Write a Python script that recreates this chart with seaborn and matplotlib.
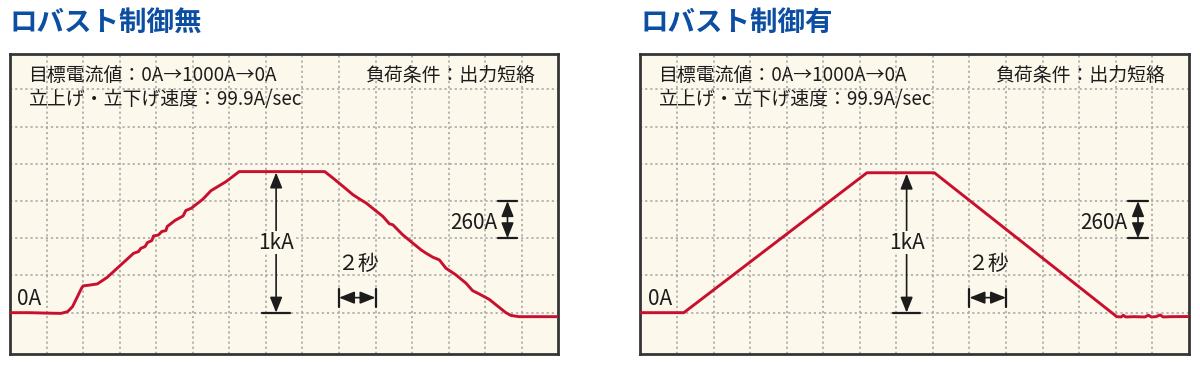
import matplotlib
matplotlib.use("Agg")
import matplotlib.pyplot as plt
import pandas as pd
import seaborn as sns

# ---------------- data ----------------
titles = ["ロバスト制御無", "ロバスト制御有"]
header_target = "目標電流値：0A→1000A→0A"
header_rate = "立上げ・立下げ速度：99.9A/sec"
header_load = "負荷条件：出力短絡"

# time [s] / current [A] traces
left_t = [0, 1.0, 2.0, 2.79, 3.15, 3.42, 3.69, 3.91, 4.0, 4.42, 4.78, 5.32, 5.86,
          6.76, 7.03, 7.16, 7.39, 7.52, 7.76, 7.85, 8.12, 8.30, 8.53, 8.60, 9.02,
          9.47, 9.62, 9.92, 10.55, 11.0, 11.82, 12.54, 17.22, 17.67, 18.22, 18.76,
          19.13, 19.49, 19.95, 20.40, 20.76, 20.95, 21.49, 22.04, 22.31, 22.49,
          22.76, 23.13, 23.49, 23.85, 24.4, 24.95, 25.31, 25.67, 26.22, 26.67,
          27.13, 27.4, 27.85, 30]
left_a = [0, 0, -3, -5, 7, 42, 112, 170, 187, 194, 201, 247, 310,
          415, 427, 450, 462, 490, 504, 536, 543, 567, 574, 602, 644,
          676, 714, 730, 793, 853, 916, 986, 986, 941, 883, 825,
          794, 766, 719, 673, 621, 614, 544, 486, 458, 439,
          416, 388, 369, 311, 264, 206, 154, 131, 93, 47,
          0, -19, -28, -28]

right_t = [0, 2.37, 12.39, 16.08, 26.06, 26.3, 26.42, 26.55, 27.0, 27.6, 27.79,
           27.95, 28.2, 28.43, 28.6, 29.0, 30]
right_a = [0, 0, 978, 978, -28, -30, -18, -30, -28, -30, -18,
           -30, -28, -16, -30, -28, -27]

grid_x = list(range(2, 30, 2))
grid_y = [0, 260, 520, 780, 1040, 1300, 1560]

# ---------------- style ----------------
BG = "#fdf8ec"
RED = "#c8102e"
INK = "#1c1c1c"
BLUE = "#0b4ea2"
FRAME = "#353535"

sns.set_theme(style="white")
plt.rcParams["font.family"] = ["Noto Sans CJK JP", "DejaVu Sans"]

fig = plt.figure(figsize=(12, 3.65), dpi=100)
fig.patch.set_facecolor("white")

W, H = 1200, 365
ax_w = 548.3 / W
ax_b = (H - 354.3) / H
ax_h = 300.0 / H
lefts = [10.0 / W, 640.5 / W]

traces = [(left_t, left_a), (right_t, right_a)]

for i, (t, a) in enumerate(traces):
    ax = fig.add_axes([lefts[i], ax_b, ax_w, ax_h])
    ax.set_facecolor(BG)
    df = pd.DataFrame({"t": t, "a": a})
    sns.lineplot(data=df, x="t", y="a", ax=ax, color=RED, linewidth=2.1,
                 sort=False, estimator=None, zorder=3)
    ax.set_xlim(0, 30)
    ax.set_ylim(-291, 1806)
    ax.set_xticks(grid_x)
    ax.set_yticks(grid_y)
    ax.set_axisbelow(True)
    ax.grid(True, color="#a6a6a6", linestyle=(0, (1.4, 1.8)), linewidth=1.15)
    ax.tick_params(length=0, labelbottom=False, labelleft=False)
    ax.set_xlabel("")
    ax.set_ylabel("")
    for sp in ax.spines.values():
        sp.set_visible(True)
        sp.set_color(FRAME)
        sp.set_linewidth(2.0)

    # header texts
    fs = 13.6
    fa = 15.0
    ax.text(0.98, 1660, header_target, fontsize=fs, color=INK, va="center", ha="left")
    ax.text(0.98, 1492, header_rate, fontsize=fs, color=INK, va="center", ha="left")
    ax.text(19.4, 1660, header_load, fontsize=fs, color=INK, va="center", ha="left")

    # 0A label
    ax.text(0.4, 95, "0A", fontsize=fa, color=INK, va="center", ha="left")

    arrow = dict(arrowstyle="<|-|>,head_length=0.55,head_width=0.22",
                 mutation_scale=17, lw=1.2, color=INK, shrinkA=0, shrinkB=0)

    # 1kA arrow
    peak = max(a)
    ax.annotate("", xy=(14.56, peak - 6), xytext=(14.56, 0), arrowprops=arrow, zorder=4)
    ax.plot([13.8, 15.32], [0, 0], color=INK, lw=1.6, zorder=4)
    ax.text(14.56, 489, "1kA", fontsize=fa, color=INK, va="center", ha="center", zorder=5,
            bbox=dict(facecolor=BG, edgecolor="none", pad=0.3))

    # 260A arrow
    ax.annotate("", xy=(27.22, 780), xytext=(27.22, 520), arrowprops=arrow, zorder=4)
    ax.plot([26.7, 27.75], [780, 780], color=INK, lw=1.6, zorder=4)
    ax.plot([26.7, 27.75], [520, 520], color=INK, lw=1.6, zorder=4)
    ax.text(26.66, 625, "260A", fontsize=fa, color=INK, va="center", ha="right")

    # 2 s arrow
    ax.annotate("", xy=(20, 105), xytext=(18, 105), arrowprops=arrow, zorder=4)
    ax.plot([18, 18], [42, 166], color=INK, lw=1.6, zorder=4)
    ax.plot([20, 20], [42, 166], color=INK, lw=1.6, zorder=4)
    ax.text(19.02, 340, "２秒", fontsize=fa, color=INK, va="center", ha="center")

    # panel title
    fig.text(lefts[i], 1 - 22.5 / H, titles[i], fontsize=19.8, fontweight="bold",
             color=BLUE, va="center", ha="left")

fig.savefig("out.png", dpi=100, facecolor="white")
